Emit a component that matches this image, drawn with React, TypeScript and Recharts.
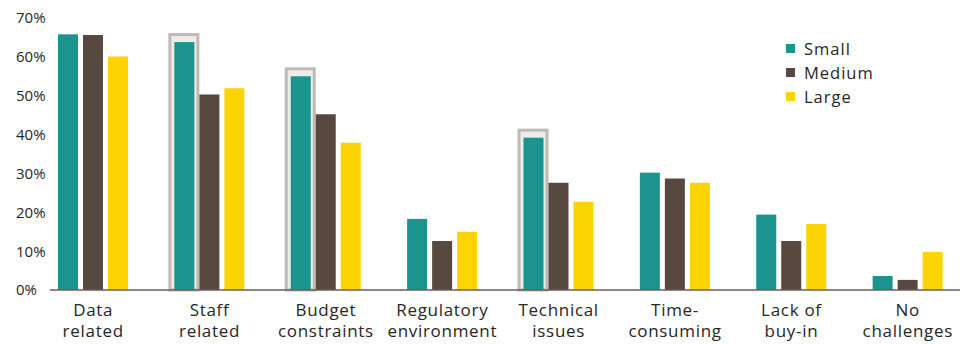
import React from "react";
import { BarChart, Bar, XAxis, YAxis, Legend } from "recharts";

// Challenge categories (line breaks mark where each label wraps)
const categories = [
  "Data\nrelated",
  "Staff\nrelated",
  "Budget\nconstraints",
  "Regulatory\nenvironment",
  "Technical\nissues",
  "Time-\nconsuming",
  "Lack of\nbuy-in",
  "No\nchallenges",
];

// Share of respondents (%) by organisation size
const smallValues = [65.8, 63.8, 55.0, 18.3, 39.2, 30.2, 19.4, 3.6];
const mediumValues = [65.6, 50.3, 45.2, 12.6, 27.6, 28.7, 12.6, 2.6];
const largeValues = [60.1, 51.9, 37.9, 15.0, 22.7, 27.6, 17.0, 9.8];

// Series names, in legend order
const seriesNames = ["Small", "Medium", "Large"];

// Categories where the small-organisation bar is called out
const highlighted = ["Staff\nrelated", "Budget\nconstraints", "Technical\nissues"];

const yTicks = [0, 10, 20, 30, 40, 50, 60, 70];

const COLORS = { small: "#1b948f", medium: "#574940", large: "#fcd303" };
const FONT = "'Open Sans', 'DejaVu Sans', sans-serif";
const TEXT = "#262626";

const data = categories.map((category, i) => ({
  category,
  small: smallValues[i],
  medium: mediumValues[i],
  large: largeValues[i],
  highlight: highlighted.includes(category),
}));

const SmallBarShape = (props: any) => {
  const { x, y, width, height, fill, payload } = props;
  return (
    <g>
      {payload && payload.highlight ? (
        <rect
          x={x - 4.5}
          y={y - 7.5}
          width={width + 8}
          height={height + 7.5}
          fill="#eeece9"
          stroke="#bfbab5"
          strokeWidth={3}
        />
      ) : null}
      <rect x={x} y={y} width={width} height={height} fill={fill} />
    </g>
  );
};

const XTick = (props: any) => {
  const { x, y, payload } = props;
  const lines = String(payload.value).split("\n");
  return (
    <text
      textAnchor="middle"
      fontFamily={FONT}
      fontSize={17}
      letterSpacing={0.7}
      fill={TEXT}
    >
      {lines.map((line, i) => (
        <tspan key={i} x={x} y={y + 26 + i * 21}>
          {line}
        </tspan>
      ))}
    </text>
  );
};

const YTick = (props: any) => {
  const { y, payload } = props;
  return (
    <text x={16} y={y} dy="0.36em" textAnchor="start" fontFamily={FONT} fontSize={15} fill={TEXT}>
      {`${payload.value}%`}
    </text>
  );
};

const LegendContent = (props: any) => {
  const items = [...(props.payload || [])].sort(
    (a: any, b: any) => seriesNames.indexOf(a.value) - seriesNames.indexOf(b.value)
  );
  return (
    <div style={{ fontFamily: FONT, fontSize: 16.5, letterSpacing: 1, color: TEXT }}>
      {items.map((item: any) => (
        <div key={item.value} style={{ display: "flex", alignItems: "center", height: 24 }}>
          <span
            style={{
              display: "inline-block",
              width: 9,
              height: 9,
              background: item.color,
              marginRight: 9,
            }}
          />
          <span>{item.value}</span>
        </div>
      ))}
    </div>
  );
};

export default function App() {
  return (
    <div style={{ position: "absolute", left: 0, top: 0, width: 973, height: 345, background: "#fff" }}>
      <BarChart
        width={973}
        height={345}
        data={data}
        margin={{ top: 18, right: 13, bottom: 0, left: 0 }}
        barSize={20}
        barGap={5}
      >
        <XAxis
          dataKey="category"
          interval={0}
          tickLine={false}
          tickSize={0}
          tickMargin={0}
          height={55}
          padding={{ left: -15, right: -6 }}
          axisLine={{ stroke: "#6b5f58", strokeWidth: 1.5 }}
          tick={<XTick />}
        />
        <YAxis
          domain={[0, 70]}
          ticks={yTicks}
          interval={0}
          width={50}
          axisLine={false}
          tickLine={false}
          tick={<YTick />}
        />
        <Legend
          layout="vertical"
          align="center"
          verticalAlign="middle"
          content={<LegendContent />}
          wrapperStyle={{ left: 786, top: 36, width: 120, height: 72 }}
        />
        <Bar dataKey="small" name={seriesNames[0]} fill={COLORS.small} shape={<SmallBarShape />} isAnimationActive={false} />
        <Bar dataKey="medium" name={seriesNames[1]} fill={COLORS.medium} isAnimationActive={false} />
        <Bar dataKey="large" name={seriesNames[2]} fill={COLORS.large} isAnimationActive={false} />
      </BarChart>
    </div>
  );
}
